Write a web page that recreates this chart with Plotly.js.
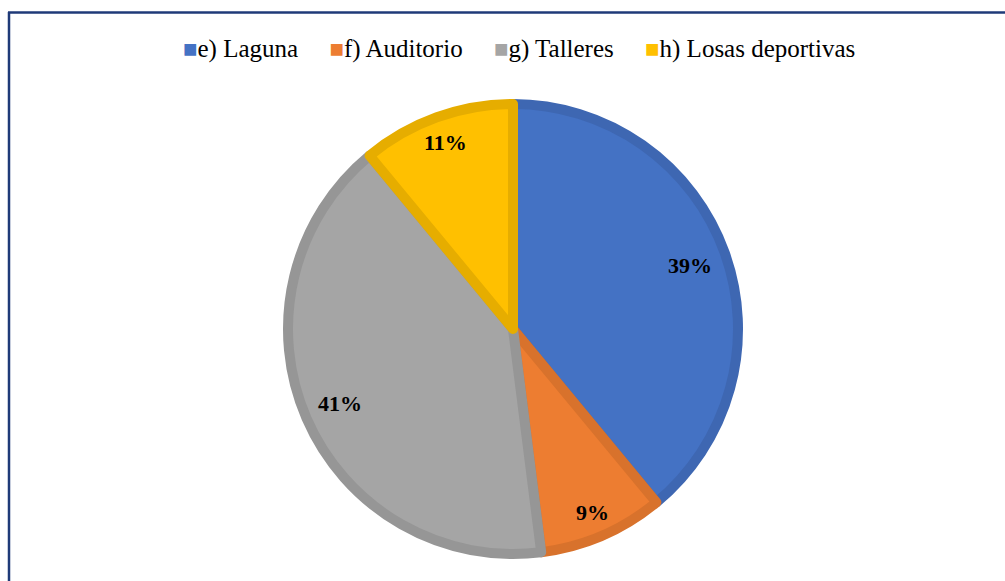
<!DOCTYPE html>
<html>
<head>
<meta charset="utf-8">
<script src="https://cdn.plot.ly/plotly-3.0.1.min.js"></script>
<style>html,body{margin:0;padding:0;background:#fff;}#chart{width:1005px;height:581px;}</style>
</head>
<body>
<div id="chart"></div>
<script>
const labels = ["e) Laguna", "f) Auditorio", "g) Talleres", "h) Losas deportivas"];
const values = [39, 9, 41, 11];
const fillColors = ["#4472C4", "#ED7D31", "#A5A5A5", "#FFC000"];
const edgeColors = ["#3E67B2", "#D8722C", "#969696", "#E6AD00"];

const W = 1005, H = 581;
const cx = 513, cy = 329, R = 225;   // pie centre / radius in px (layout)
const SERIF = "Liberation Serif, Times New Roman, serif";
const LABEL_SIZE = 22;

const trace = {
  type: "pie",
  labels: labels,
  values: values,
  sort: false,
  direction: "clockwise",
  rotation: 0,
  marker: {colors: fillColors, line: {color: edgeColors, width: 10}},
  textinfo: "none",
  hoverinfo: "label+percent",
  showlegend: false,
  domain: {x: [(cx - R) / W, (cx + R) / W], y: [1 - (cy + R) / H, 1 - (cy - R) / H]}
};

// percentage labels placed at the inside end of each slice
const total = values.reduce((a, b) => a + b, 0);
let cum = 0;
const annotations = values.map(v => {
  const mid = (cum + v / 2) / total * 2 * Math.PI;
  cum += v;
  const txt = Math.round(v / total * 100) + "%";
  const halfW = ((txt.length - 1) * 0.5 + 1) * LABEL_SIZE / 2;
  const halfH = LABEL_SIZE / 2;
  const extent = halfW * Math.abs(Math.sin(mid)) + halfH * Math.abs(Math.cos(mid));
  const d = R - 1.5 * extent;
  const px = cx + d * Math.sin(mid);
  const py = cy - d * Math.cos(mid);
  return {
    xref: "paper", yref: "paper", x: px / W, y: 1 - py / H,
    xanchor: "center", yanchor: "middle", showarrow: false,
    text: "<b>" + txt + "</b>",
    font: {family: SERIF, size: LABEL_SIZE, color: "#000"}
  };
});

// legend row (square marker + label for every category)
const GAP = "\u00A0".repeat(5);
const legendText = labels.map((l, i) =>
  '<span style="color:' + fillColors[i] + ';font-size:24px">\u25A0</span>' + l
).join(GAP);
annotations.push({
  xref: "paper", yref: "paper", x: 519 / W, y: 1 - 49 / H,
  xanchor: "center", yanchor: "middle", showarrow: false,
  text: legendText,
  font: {family: SERIF, size: 25, color: "#000"}
});

const layout = {
  width: W,
  height: H,
  margin: {l: 0, r: 0, t: 0, b: 0},
  paper_bgcolor: "#fff",
  font: {family: SERIF, size: 22, color: "#000"},
  showlegend: false,
  annotations: annotations,
  shapes: [
    {type: "line", xref: "paper", yref: "paper", x0: 9 / W, x1: 9 / W, y0: 0, y1: 1 - 12 / H, line: {color: "#1F3A78", width: 2.5}},
    {type: "line", xref: "paper", yref: "paper", x0: 8 / W, x1: 1, y0: 1 - 12.5 / H, y1: 1 - 12.5 / H, line: {color: "#1F3A78", width: 2.5}}
  ]
};

Plotly.newPlot("chart", [trace], layout, {displayModeBar: false, staticPlot: true});
</script>
</body>
</html>
